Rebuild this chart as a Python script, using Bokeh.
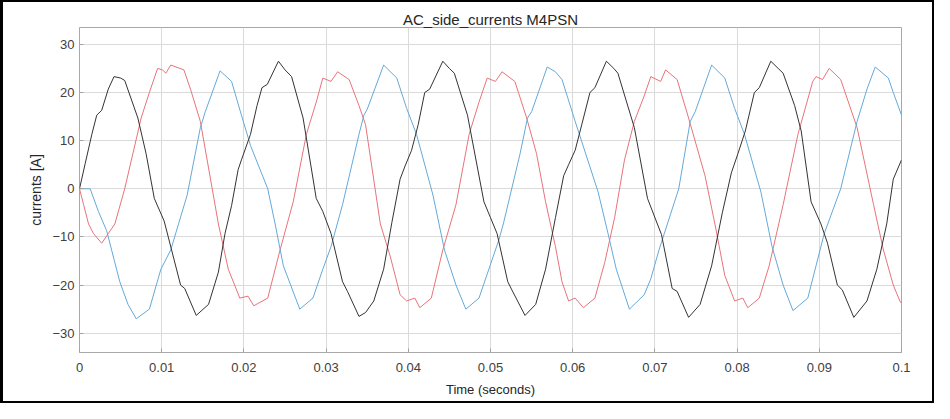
from bokeh.plotting import figure
from bokeh.models import FixedTicker, Range1d
from bokeh.embed import file_html
from bokeh.resources import INLINE

# ---- data (time in milliseconds, current in A) ----
black_t_ms = [0, 0.7, 1.5, 2.1, 2.7, 3.5, 4.2, 5.0, 5.5, 7.1, 8.1, 9.1, 10.3, 12.3, 12.8, 14.2,
              15.7, 16.9, 17.7, 18.5, 19.3, 19.7, 20.8, 21.6, 22.2, 22.85, 24.2, 25.0, 25.8, 27.2,
              28.8, 29.6, 30.6, 32.0, 32.6, 34.0, 34.8, 35.8, 37.0, 38.0, 39.0, 39.6, 40.4, 41.2,
              42.0, 42.6, 44.2, 45.0, 45.6, 47.2, 49.2, 50.0, 50.8, 52.1, 52.6, 54.2, 55.5, 56.7,
              57.9, 58.9, 59.5, 60.3, 61.1, 62.1, 62.7, 64.1, 65.0, 65.5, 67.5, 69.1, 70.3, 70.8,
              72.1, 72.7, 74.1, 75.5, 76.9, 78.2, 79.3, 80.1, 81.0, 82.1, 82.7, 84.1, 85.0, 85.6,
              87.0, 87.8, 89.0, 90.2, 91.0, 92.2, 92.8, 94.2, 95.8, 97.0, 98.2, 99.0, 100.0]
black_a = [0, 5.3, 11.3, 15.3, 16.3, 20.7, 23.3, 23.0, 22.5, 14.7, 7.3, -2.0, -6.7, -20.0, -20.7, -26.3,
           -24.0, -17.3, -9.3, -3.5, 4.0, 6.0, 11.3, 17.3, 21.0, 21.7, 26.5, 24.7, 23.3, 14.7,
           -2.0, -4.7, -9.3, -19.3, -21.3, -26.5, -25.7, -23.3, -16.7, -7.0, 2.0, 4.7, 8.0, 13.3,
           20.0, 20.7, 26.5, 25.0, 24.0, 15.3, -2.7, -6.0, -9.3, -19.3, -21.0, -26.3, -24.0, -16.7,
           -6.0, 2.7, 5.0, 8.0, 13.3, 20.0, 21.0, 26.5, 25.0, 24.0, 12.7, -2.0, -7.3, -9.5,
           -20.7, -21.3, -26.7, -24.0, -16.0, -5.0, 3.3, 7.3, 12.0, 20.0, 21.0, 26.5, 25.0, 24.0,
           17.3, 12.0, -2.7, -7.3, -11.3, -20.0, -21.0, -26.7, -23.3, -16.7, -7.3, 2.0, 6.0]

red_t_ms = [0, 0.5, 1.1, 1.7, 2.7, 3.5, 4.3, 5.5, 7.5, 8.5, 9.5, 10.1, 10.5, 11.1, 12.7, 13.5,
            14.7, 16.9, 18.1, 19.5, 20.5, 21.2, 22.9, 24.4, 26.0, 27.6, 28.8, 29.6, 30.6, 31.4,
            32.8, 34.0, 34.8, 36.6, 37.8, 39.0, 39.8, 40.8, 41.4, 42.8, 44.2, 45.8, 47.4, 48.6,
            49.6, 50.6, 51.4, 52.96, 53.4, 54.4, 55.6, 56.7, 57.9, 58.7, 59.5, 60.3, 61.3, 62.7,
            63.9, 65.1, 66.3, 67.5, 68.7, 69.5, 70.7, 71.3, 72.7, 74.1, 76.1, 77.3, 78.5, 79.7,
            80.7, 81.3, 82.7, 83.9, 85.6, 87.4, 88.5, 89.2, 89.6, 90.4, 91.2, 92.6, 94.6, 96.6,
            97.8, 99.0, 99.8, 100.0]
red_a = [0, -3.3, -7.3, -9.3, -11.3, -9.3, -7.3, 0.0, 14.7, 20.0, 25.0, 24.7, 24.0, 25.7, 24.7, 20.7,
         14.0, -7.3, -16.7, -22.7, -22.3, -24.3, -22.7, -12.7, -2.7, 11.3, 18.0, 23.0, 22.3, 24.3,
         22.7, 17.3, 13.3, -7.3, -14.0, -22.0, -23.3, -22.7, -24.7, -22.7, -12.7, -3.3, 11.3, 18.0,
         23.0, 22.3, 24.3, 22.3, 20.0, 14.7, 7.3, -2.7, -12.0, -19.3, -23.3, -22.7, -24.7, -22.7,
         -15.3, -6.0, 6.0, 14.0, 19.3, 23.3, 22.3, 24.7, 22.7, 14.7, 2.7, -7.3, -18.0, -23.3,
         -22.7, -24.7, -22.7, -16.0, -3.3, 11.3, 18.0, 22.3, 23.3, 22.7, 25.0, 22.7, 12.7, -3.3,
         -12.7, -20.0, -23.3, -23.8]

blue_t_ms = [0, 1.3, 2.3, 3.3, 4.9, 5.9, 6.9, 8.5, 9.9, 11.1, 13.1, 14.7, 15.3, 17.1, 18.5, 19.7,
             20.8, 22.9, 23.8, 24.8, 26.8, 28.4, 29.6, 30.6, 32.0, 34.0, 34.6, 35.0, 37.0, 38.6,
             39.8, 41.0, 43.0, 44.4, 45.8, 47.0, 48.6, 51.0, 51.56, 53.6, 54.5, 55.0, 56.9, 57.9,
             58.7, 60.3, 63.1, 64.3, 65.3, 66.9, 68.7, 69.5, 70.5, 72.9, 74.3, 74.9, 76.9, 78.5,
             79.7, 80.9, 82.9, 84.25, 85.6, 86.8, 88.6, 90.6, 92.6, 94.6, 95.8, 96.8, 98.4, 99.0,
             100.0]
blue_a = [0, 0.0, -4.7, -8.7, -19.3, -24.0, -27.0, -25.0, -16.7, -12.7, -1.3, 12.7, 16.0, 24.5, 22.3, 15.3,
          9.0, 0.0, -7.3, -16.0, -25.0, -22.7, -16.7, -12.0, -3.3, 11.3, 15.3, 16.5, 25.7, 23.0,
          16.7, 11.3, -1.3, -12.7, -20.0, -25.0, -22.7, -10.7, -7.3, 7.3, 14.7, 16.0, 25.3, 24.3,
          22.7, 14.0, -0.7, -9.3, -16.7, -25.0, -22.0, -18.7, -12.7, 0.0, 14.0, 16.0, 25.7, 23.0,
          16.7, 11.3, -0.7, -12.0, -20.0, -25.3, -22.7, -9.3, 0.0, 14.0, 20.7, 25.3, 23.0, 20.0,
          15.3]

x_ticks = [0, 0.01, 0.02, 0.03, 0.04, 0.05, 0.06, 0.07, 0.08, 0.09, 0.1]
x_tick_labels = ["0", "0.01", "0.02", "0.03", "0.04", "0.05", "0.06", "0.07", "0.08", "0.09", "0.1"]
y_ticks = [-30, -20, -10, 0, 10, 20, 30]

FONT = "Liberation Sans"

p = figure(width=934, height=403, output_backend="svg", toolbar_location=None,
           x_range=Range1d(0, 0.1), y_range=Range1d(-34, 33.5),
           title="AC_side_currents M4PSN",
           min_border_left=76, min_border_right=36, min_border_top=25, min_border_bottom=53)

p.title.align = "center"
p.title.text_font = FONT
p.title.text_font_size = "15px"
p.title.text_font_style = "normal"
p.title.text_color = "#262626"
p.title.standoff = 0

for t, a, c in [(red_t_ms, red_a, "#e8737a"), (blue_t_ms, blue_a, "#64a9d9"), (black_t_ms, black_a, "#333333")]:
    p.line([v / 1000.0 for v in t], a, line_color=c, line_width=1)

p.xaxis.ticker = FixedTicker(ticks=x_ticks)
p.xaxis.major_label_overrides = {tk: lb for tk, lb in zip(x_ticks, x_tick_labels)}
p.yaxis.ticker = FixedTicker(ticks=y_ticks)
p.xaxis.axis_label = "Time (seconds)"
p.yaxis.axis_label = "currents [A]"

for ax in (p.xaxis, p.yaxis):
    ax.axis_line_color = None
    ax.major_tick_in = 4
    ax.major_tick_out = 0
    ax.major_tick_line_color = "#a0a0a0"
    ax.minor_tick_line_color = None
    ax.major_label_text_font = FONT
    ax.major_label_text_font_size = "13px"
    ax.major_label_text_color = "#404040"
    ax.axis_label_text_font = FONT
    ax.axis_label_text_font_size = "13px"
    ax.axis_label_text_font_style = "normal"
    ax.axis_label_text_color = "#262626"
p.yaxis.axis_label_text_font_size = "14px"
p.xaxis.major_label_standoff = 10
p.xaxis.axis_label_standoff = 7
p.yaxis.major_label_standoff = 5
p.yaxis.axis_label_standoff = 5

p.xgrid.grid_line_color = "#dadada"
p.ygrid.grid_line_color = "#dadada"
p.outline_line_color = "#a8a8a8"
p.outline_line_width = 1
p.background_fill_color = "white"
p.border_fill_color = "white"
p.styles = {"border": "2px solid black", "border-left-width": "3px", "box-sizing": "border-box"}

open("out.html", "w").write(file_html(p, INLINE))
